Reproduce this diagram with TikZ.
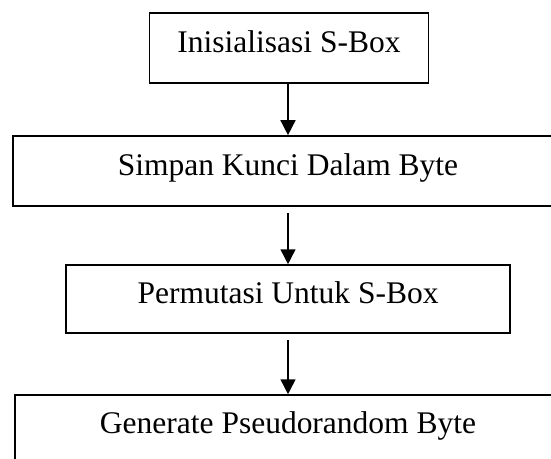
\documentclass[tikz,border=0pt]{standalone}
\usepackage{fontspec}
\setmainfont{Liberation Serif}
\usetikzlibrary{arrows.meta}

\begin{document}
\begin{tikzpicture}[x=0.381pt, y=-0.381pt,
    stepbox/.style={draw=black, line width=0.6pt, inner sep=0pt, text height=0.6em, text depth=0.25em, font=\fontsize{12}{14}\selectfont},
    flow/.style={-{Triangle[width=5.7pt, length=5.7pt]}, line width=0.6pt}]
    \useasboundingbox (0,0) rectangle (551,459);
    \clip (0,0) rectangle (551,459);

    % Steps
    \node[stepbox, minimum width=106.3pt, minimum height=26.7pt] (init) at (289,48) {Inisialisasi S-Box};
    \node[stepbox, minimum width=209.6pt, minimum height=26.7pt] (simpan) at (288,171) {Simpan Kunci Dalam Byte};
    \node[stepbox, minimum width=169.2pt, minimum height=25.9pt] (perm) at (288,299) {Permutasi Untuk S-Box};
    \node[stepbox, minimum width=208pt, minimum height=25.9pt] (gen) at (288,429) {Generate Pseudorandom Byte};

    % Arrows
    \draw[flow] (init.south -| simpan.north) -- (simpan.north);
    \draw[flow, shorten <=2.3pt] (simpan.south) -- (perm.north);
    \draw[flow, shorten <=2.3pt] (perm.south) -- (gen.north);
\end{tikzpicture}
\end{document}
